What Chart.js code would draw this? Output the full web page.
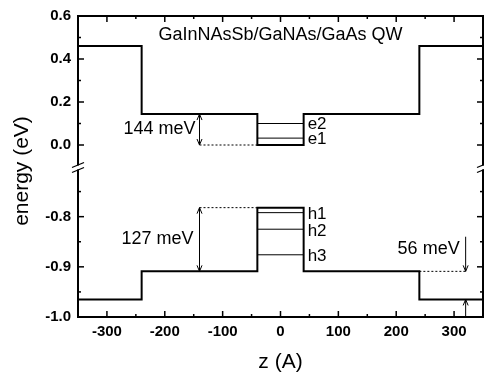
<!DOCTYPE html>
<html><head><meta charset="utf-8">
<script src="https://cdn.jsdelivr.net/npm/chart.js@4/dist/chart.umd.min.js"></script>
<style>html,body{margin:0;padding:0;background:#fff}</style>
</head><body>
<canvas id="c" width="484" height="376"></canvas>
<script>
// ---- data ----
const zEdges = [-350, -240, -40, 40, 240, 350];          // layer boundaries (A)
const cbEnergy = [0.46, 0.144, 0.0, 0.144, 0.46];         // conduction band per layer (eV)
const vbEnergy = [-0.965, -0.909, -0.782, -0.909, -0.965];// valence band per layer (eV)
const wellEdges = [-40, 40];
const electronLevels = [0.100, 0.032];
const electronNames = ['e2', 'e1'];
const holeLevels = [-0.792, -0.825, -0.876];
const holeNames = ['h1', 'h2', 'h3'];
const zTicks = [-300, -200, -100, 0, 100, 200, 300];
const zMinorTicks = [-250, -150, -50, 50, 150, 250];
const eTopTicks = [0.0, 0.2, 0.4, 0.6];
const eTopMinor = [0.1, 0.3, 0.5];
const eBotTicks = [-1.0, -0.9, -0.8];
const eBotMinor = [-0.95, -0.85, -0.75];
const cbOffset = { z: -140, from: 0.0, to: 0.144, label: '144 meV' };
const vbOffset = { z: -140, from: -0.909, to: -0.782, label: '127 meV' };
const outerOffset = { z: 320, upper: -0.84, from: -0.909, to: -0.965, lower: -1.0, label: '56 meV' };
const titleText = 'GaInNAsSb/GaNAs/GaAs QW';

const FONT = '"Liberation Sans", Arial, sans-serif';
const stepData = lv => zEdges.map((z, i) => ({ x: z, y: lv[Math.min(i, lv.length - 1)] }));
const seg = (x0, x1, y) => [{ x: x0, y }, { x: x1, y }];

const base = { borderColor: '#000', pointRadius: 0, fill: false, tension: 0 };
const datasets = [
  { ...base, data: stepData(cbEnergy), yAxisID: 'yTop', stepped: true, borderWidth: 2 },
  { ...base, data: stepData(vbEnergy), yAxisID: 'yBot', stepped: true, borderWidth: 2 },
  ...electronLevels.map(v => ({ ...base, data: seg(wellEdges[0], wellEdges[1], v), yAxisID: 'yTop', borderWidth: 1 })),
  ...holeLevels.map(v => ({ ...base, data: seg(wellEdges[0], wellEdges[1], v), yAxisID: 'yBot', borderWidth: 1 })),
  { ...base, data: seg(cbOffset.z, wellEdges[0], cbOffset.from), yAxisID: 'yTop', borderWidth: 1, borderDash: [2, 2] },
  { ...base, data: seg(vbOffset.z, wellEdges[0], vbOffset.to), yAxisID: 'yBot', borderWidth: 1, borderDash: [2, 2] },
  { ...base, data: seg(zEdges[4], outerOffset.z, outerOffset.from), yAxisID: 'yBot', borderWidth: 1, borderDash: [2, 2] }
];

const tickFont = { family: FONT, size: 15, weight: 'bold' };

const deco = {
  id: 'deco',
  afterDatasetsDraw(chart) {
    const { ctx, chartArea: a, scales } = chart;
    const X = scales.x, T = scales.yTop, B = scales.yBot;
    ctx.save();
    ctx.strokeStyle = '#000'; ctx.fillStyle = '#000';
    const line = (x1, y1, x2, y2) => { ctx.beginPath(); ctx.moveTo(x1, y1); ctx.lineTo(x2, y2); ctx.stroke(); };
    // frame
    ctx.lineWidth = 2;
    ctx.strokeRect(a.left, a.top, a.right - a.left, a.bottom - a.top);
    // ticks (inward, mirrored)
    ctx.lineWidth = 1.5;
    zTicks.forEach(v => { const p = X.getPixelForValue(v); line(p, a.bottom, p, a.bottom - 6); line(p, a.top, p, a.top + 6); });
    zMinorTicks.forEach(v => { const p = X.getPixelForValue(v); line(p, a.bottom, p, a.bottom - 3); line(p, a.top, p, a.top + 3); });
    const yt = (S, vals, len) => vals.forEach(v => { const p = S.getPixelForValue(v); line(a.left, p, a.left + len, p); line(a.right, p, a.right - len, p); });
    yt(T, eTopTicks, 6); yt(T, eTopMinor, 3); yt(B, eBotTicks, 6); yt(B, eBotMinor, 3);
    // axis break marks
    const yb = (T.bottom + B.top) / 2 + 1;
    [a.left, a.right].forEach(x => {
      ctx.fillStyle = '#fff'; ctx.fillRect(x - 1.5, yb - 2, 3, 4); ctx.fillStyle = '#000';
      ctx.lineWidth = 1.3;
      [-2.5, 2.5].forEach(d => line(x - 6, yb + d + 2.5, x + 6, yb + d - 2.5));
    });
    // arrows
    ctx.lineWidth = 1;
    const head = (x, y, dir) => { line(x - 2.5, y - dir * 6, x, y); line(x + 2.5, y - dir * 6, x, y); };
    const dbl = (S, o) => {
      const x = X.getPixelForValue(o.z), y0 = S.getPixelForValue(o.from), y1 = S.getPixelForValue(o.to);
      line(x, y0, x, y1); head(x, y1, y1 < y0 ? -1 : 1); head(x, y0, y0 < y1 ? -1 : 1);
    };
    dbl(T, cbOffset); dbl(B, vbOffset);
    const ox = X.getPixelForValue(outerOffset.z);
    let ya = B.getPixelForValue(outerOffset.upper), yb2 = B.getPixelForValue(outerOffset.from);
    line(ox, ya, ox, yb2); head(ox, yb2, 1);
    ya = B.getPixelForValue(outerOffset.lower); yb2 = B.getPixelForValue(outerOffset.to);
    line(ox, ya, ox, yb2); head(ox, yb2, -1);
    // texts
    ctx.textBaseline = 'middle';
    ctx.font = '18px ' + FONT;
    ctx.textAlign = 'center';
    ctx.fillText(titleText, X.getPixelForValue(0), T.getPixelForValue(0.51));
    ctx.textAlign = 'right';
    ctx.fillText(cbOffset.label, X.getPixelForValue(cbOffset.z) - 4, T.getPixelForValue((cbOffset.from + cbOffset.to) / 2));
    ctx.fillText(vbOffset.label, X.getPixelForValue(vbOffset.z) - 6, B.getPixelForValue((vbOffset.from + vbOffset.to) / 2));
    ctx.fillText(outerOffset.label, ox - 6, B.getPixelForValue(-0.864));
    ctx.textAlign = 'left';
    ctx.font = '17px ' + FONT;
    const lx = X.getPixelForValue(wellEdges[1]) + 4;
    electronLevels.forEach((v, i) => ctx.fillText(electronNames[i], lx, T.getPixelForValue(v) + 1));
    holeLevels.forEach((v, i) => ctx.fillText(holeNames[i], lx, B.getPixelForValue(v) + 2));
    // y-axis title
    ctx.save();
    ctx.translate(22, 171);
    ctx.rotate(-Math.PI / 2);
    ctx.textAlign = 'center';
    ctx.font = '21px ' + FONT;
    ctx.fillText('energy (eV)', 0, 0);
    ctx.restore();
    ctx.restore();
  }
};

const yCommon = (min, max, ticks) => ({
  type: 'linear', position: 'left', stack: 'energy', stackWeight: 1, min, max,
  grid: { display: false, drawTicks: false }, border: { display: false },
  afterBuildTicks: s => { s.ticks = ticks.map(v => ({ value: v })); },
  ticks: { font: tickFont, color: '#000', padding: 7, callback: v => v.toFixed(1) },
  afterFit: s => { s.width = 78; }
});

new Chart(document.getElementById('c'), {
  type: 'line',
  data: { datasets },
  options: {
    responsive: false, animation: false, devicePixelRatio: 1,
    layout: { padding: { top: 12, right: 1, left: 0, bottom: 0 } },
    plugins: { legend: { display: false }, tooltip: { enabled: false } },
    scales: {
      x: {
        type: 'linear', min: -350, max: 350,
        grid: { display: false, drawTicks: false }, border: { display: false },
        afterBuildTicks: s => { s.ticks = zTicks.map(v => ({ value: v })); },
        ticks: { font: tickFont, color: '#000', padding: 6, maxRotation: 0, callback: v => String(v) },
        title: { display: true, text: 'z (A)', font: { family: FONT, size: 21 }, color: '#000', padding: { top: 1, bottom: 1 } },
        afterFit: s => { s.height = 59; }
      },
      yBot: yCommon(-1.0, -0.7, eBotTicks),
      yTop: yCommon(-0.1, 0.6, eTopTicks)
    }
  },
  plugins: [deco]
});
</script>
</body></html>
